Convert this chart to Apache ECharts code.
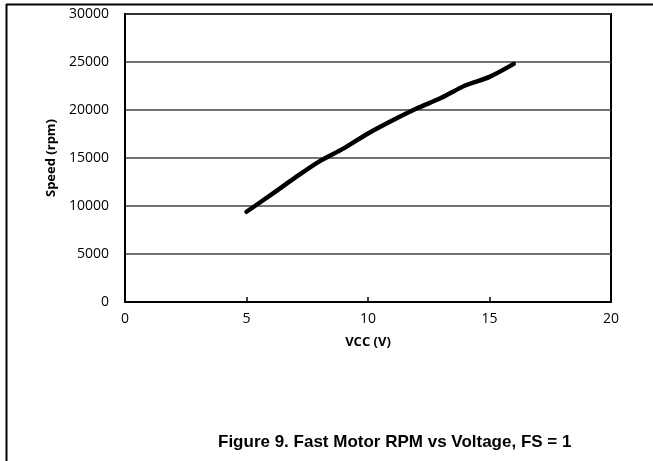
<!DOCTYPE html>
<html><head><meta charset="utf-8">
<script src="https://cdn.jsdelivr.net/npm/echarts@6/dist/echarts.min.js"></script>
<style>html,body{margin:0;padding:0;background:#fff}#c{width:653px;height:461px}</style>
</head><body><div id="c"></div>
<script>
const voltage = [5, 6, 7, 8, 9, 10, 11, 12, 13, 14, 15, 16];
const speed = [9400, 11150, 12950, 14650, 16000, 17550, 18900, 20150, 21250, 22550, 23450, 24800];
const xTitle = 'VCC (V)';
const yTitle = 'Speed (rpm)';
const caption = 'Figure 9. Fast Motor RPM vs Voltage, FS = 1';

const chart = echarts.init(document.getElementById('c'), null, {renderer: 'canvas'});
const font = '"Open Sans", "Noto Sans", sans-serif';
chart.setOption({
  animation: false,
  backgroundColor: '#fff',
  grid: {left: 125, right: 42, top: 14, bottom: 159, show: true, borderColor: '#000', borderWidth: 2, backgroundColor: 'transparent'},
  xAxis: {
    type: 'value', min: 0, max: 20, interval: 5,
    name: xTitle, nameLocation: 'middle', nameGap: 34,
    nameTextStyle: {fontFamily: font, fontSize: 13, fontWeight: 'bold', color: '#000'},
    axisLine: {lineStyle: {color: '#000', width: 2}},
    axisTick: {show: true, inside: true, length: 5, lineStyle: {color: '#000', width: 1.5}},
    axisLabel: {fontFamily: font, fontSize: 14, color: '#000', margin: 10, formatter: v => String(v)},
    splitLine: {show: false}
  },
  yAxis: {
    type: 'value', min: 0, max: 30000, interval: 5000,
    name: yTitle, nameLocation: 'middle', nameGap: 65, nameRotate: 90,
    nameTextStyle: {fontFamily: font, fontSize: 13, fontWeight: 'bold', color: '#000'},
    axisLine: {show: true, lineStyle: {color: '#000', width: 2}},
    axisTick: {show: false},
    axisLabel: {fontFamily: font, fontSize: 14, color: '#000', margin: 16, formatter: v => String(v)},
    splitLine: {show: true, lineStyle: {color: '#444', width: 1.5}}
  },
  series: [{
    type: 'line', data: voltage.map((v, i) => [v, speed[i]]),
    smooth: 0.3, symbol: 'none',
    lineStyle: {color: '#000', width: 4.5, cap: 'round'}
  }],
  graphic: [
    {type: 'line', shape: {x1: 6.5, y1: 4, x2: 6.5, y2: 461}, style: {stroke: '#000', lineWidth: 2}},
    {type: 'line', shape: {x1: 6, y1: 4.5, x2: 653, y2: 4.5}, style: {stroke: '#000', lineWidth: 2}},
    {type: 'text', left: 218, top: 434, style: {text: caption, font: 'bold 17px "Liberation Sans", Arial, sans-serif', fill: '#000'}}
  ]
});
</script></body></html>
